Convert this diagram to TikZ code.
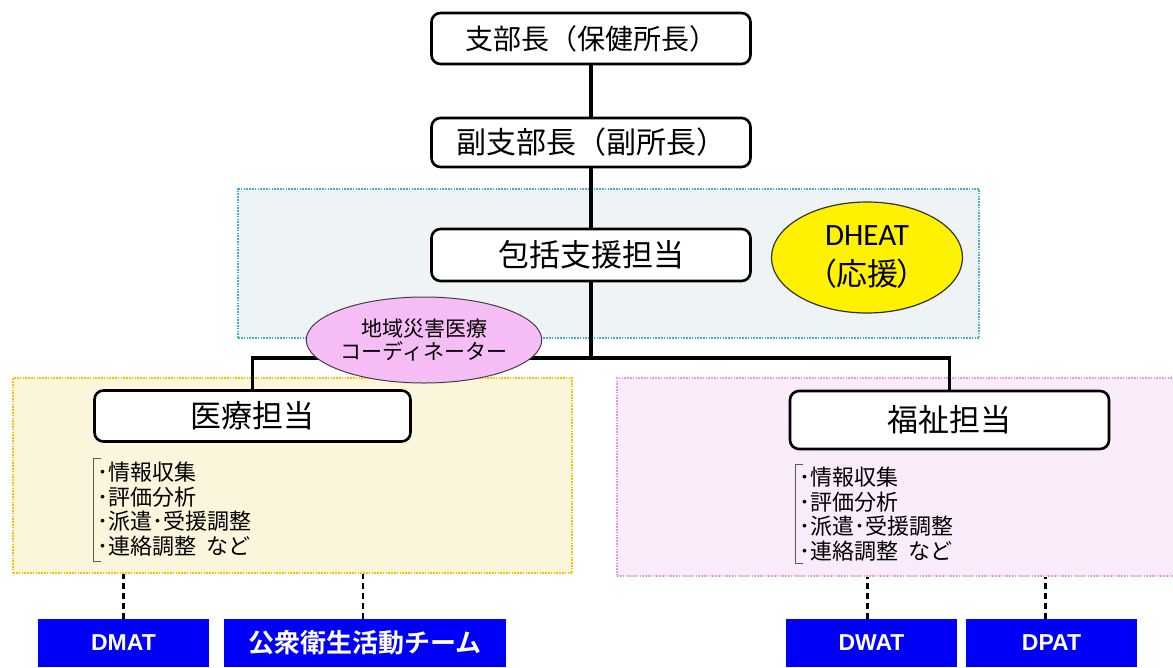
\documentclass[tikz,border=0pt]{standalone}
\usepackage{fontspec}
\setmainfont{Noto Sans CJK JP}
\newfontfamily\jpfont{Noto Sans CJK JP}
\newfontfamily\jpbold{Noto Sans CJK JP Bold}
\newfontfamily\jppalt[RawFeature=+palt]{Noto Sans CJK JP}
\newfontfamily\carlfont{Carlito}
\newfontfamily\lsansfont{Liberation Sans}
\usetikzlibrary{shapes.geometric}
\definecolor{bluereg}{RGB}{238,243,246}
\definecolor{blueregline}{RGB}{70,170,210}
\definecolor{yelreg}{RGB}{251,245,220}
\definecolor{yelregline}{RGB}{255,192,0}
\definecolor{pinkreg}{RGB}{249,235,249}
\definecolor{pinkregline}{RGB}{228,155,228}
\definecolor{coordpink}{RGB}{245,188,245}
\definecolor{teamblue}{RGB}{0,0,250}
\definecolor{brk}{RGB}{90,90,90}
\tikzset{
  orgbox/.style={draw=black, line width=2.6pt, rounded corners=9pt, fill=white, inner sep=0pt, text=black},
  regionbox/.style={line width=2.2pt, dash pattern=on 1.6pt off 1.2pt, inner sep=0pt, anchor=north west},
  linkline/.style={line width=3.2pt, draw=black},
  dashlink/.style={line width=2.2pt, dash pattern=on 6pt off 4pt, draw=black},
  teambox/.style={fill=teamblue, draw=none, text=white, inner sep=0pt, minimum height=48pt},
  tasklist/.style={inner sep=0pt, anchor=north west, align=left, font=\jpfont\fontsize{22}{24.5}\selectfont},
  bracketline/.style={line width=1pt, draw=brk}
}
\begin{document}
\begin{tikzpicture}[x=1pt,y=-1pt]
\useasboundingbox (0,0) rectangle (1173,667);
% regions
\node[regionbox, draw=blueregline, fill=bluereg, minimum width=741pt, minimum height=149pt] (bluer) at (237,188) {};
\node[regionbox, draw=yelregline, fill=yelreg, minimum width=559pt, minimum height=195pt] (yelr) at (12,377) {};
\node[regionbox, draw=pinkregline, fill=pinkreg, minimum width=562pt, minimum height=198pt] (pinkr) at (616,377) {};
% boxes
\node[orgbox, minimum width=319pt, minimum height=51pt, font=\jpfont\fontsize{28}{30}\selectfont] (b1) at (591,38.5) {支部長（保健所長）};
\node[orgbox, minimum width=319pt, minimum height=49pt, font=\jpfont\fontsize{30}{32}\selectfont] (b2) at (591,142.5) {副支部長（副所長）};
\node[orgbox, minimum width=319pt, minimum height=52pt, font=\jpfont\fontsize{31}{33}\selectfont] (b3) at (591,255) {包括支援担当};
\node[orgbox, minimum width=316pt, minimum height=51pt, font=\jpfont\fontsize{31}{33}\selectfont] (iryo) at (252.5,416) {医療担当};
\node[orgbox, minimum width=319pt, minimum height=58pt, font=\jpfont\fontsize{31}{33}\selectfont] (fuku) at (949.5,420) {福祉担当};
% connectors
\coordinate (junc) at (591,358);
\draw[linkline] (b1.south) -- (b2.north);
\draw[linkline] (b2.south) -- (b3.north);
\draw[linkline] (b3.south) -- (junc);
\draw[linkline] (iryo.north) -- (iryo.north |- junc) -- (fuku.north |- junc) -- (fuku.north);
% ellipses
\node[ellipse, draw=black!80, line width=1.2pt, fill=yellow, inner sep=0pt, minimum width=191pt, minimum height=111pt, align=center, font=\fontsize{31}{40}\selectfont] (dheat) at (867,257.5) {{\carlfont DHEAT}\\{\jppalt （応援）}};
\node[ellipse, draw=black!75, line width=1pt, fill=coordpink, inner sep=0pt, minimum width=212pt, minimum height=86pt, align=center, font=\jpfont\fontsize{21}{23}\selectfont] (coord) at (424,340) {地域災害医療\\コーディネーター};
% task lists
\draw[bracketline] (101,458) -- (93,458) -- (93,561) -- (101,561);
\node[tasklist] (list1) at (97,462) {･情報収集\\･評価分析\\･派遣･受援調整\\･連絡調整\ \ など};
\draw[bracketline] (803,464) -- (795,464) -- (795,563) -- (803,563);
\node[tasklist] (list2) at (799,467) {･情報収集\\･評価分析\\･派遣･受援調整\\･連絡調整\ \ など};
% team boxes
\node[teambox, minimum width=171pt, font=\lsansfont\bfseries\fontsize{23}{25}\selectfont] (dmat) at (123.5,643) {DMAT};
\node[teambox, minimum width=282pt, font=\jpbold\fontsize{26}{28}\selectfont] (kosyu) at (365,643) {公衆衛生活動チーム};
\node[teambox, minimum width=171pt, font=\lsansfont\bfseries\fontsize{23}{25}\selectfont] (dwat) at (871.5,643) {DWAT};
\node[teambox, minimum width=171pt, font=\lsansfont\bfseries\fontsize{23}{25}\selectfont] (dpat) at (1051.5,643) {DPAT};
% dashed links
\draw[dashlink] (dmat.north) -- (dmat.north |- yelr.south);
\draw[dashlink] ([xshift=-2pt]kosyu.north) -- ([xshift=-2pt]kosyu.north |- yelr.south);
\draw[dashlink] ([xshift=-4pt]dwat.north) -- ([xshift=-4pt]dwat.north |- pinkr.south);
\draw[dashlink] ([xshift=-6pt]dpat.north) -- ([xshift=-6pt]dpat.north |- pinkr.south);
\end{tikzpicture}
\end{document}
